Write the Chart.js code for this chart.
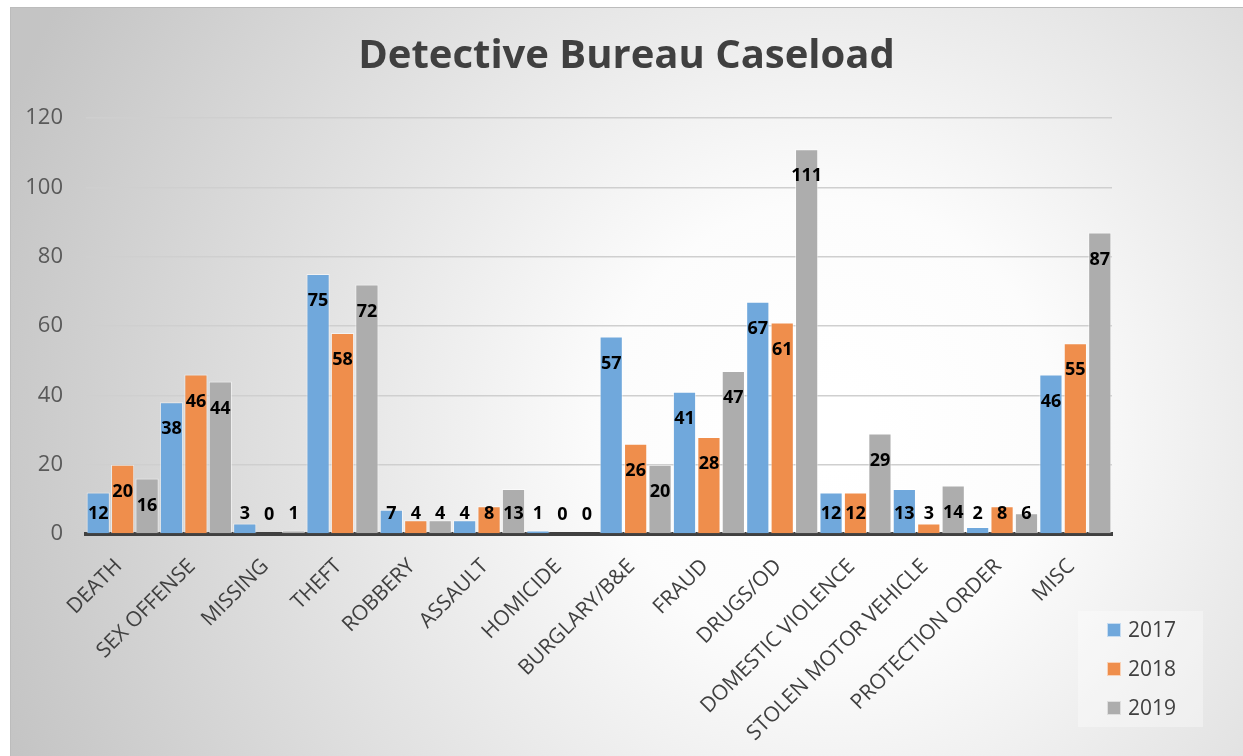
<!DOCTYPE html>
<html>
<head>
<meta charset="utf-8">
<script src="https://cdn.jsdelivr.net/npm/chart.js@4"></script>
<style>
  body { margin: 0; background: #ffffff; }
  #wrap { position: absolute; left: 10px; top: 7px; width: 1233px; height: 749px; }
</style>
</head>
<body>
<div id="wrap"><canvas id="caseChart"></canvas></div>
<script>
const categories = [
  "DEATH", "SEX OFFENSE", "MISSING", "THEFT", "ROBBERY", "ASSAULT", "HOMICIDE",
  "BURGLARY/B&E", "FRAUD", "DRUGS/OD", "DOMESTIC VIOLENCE", "STOLEN MOTOR VEHICLE",
  "PROTECTION ORDER", "MISC"
];
const cases2017 = [12, 38, 3, 75, 7, 4, 1, 57, 41, 67, 12, 13, 2, 46];
const cases2018 = [20, 46, 0, 58, 4, 8, 0, 26, 28, 61, 12, 3, 8, 55];
const cases2019 = [16, 44, 1, 72, 4, 13, 0, 20, 47, 111, 29, 14, 6, 87];
const yTicks = [0, 20, 40, 60, 80, 100, 120];

const FONT = "'Open Sans', sans-serif";

// radial grey background plus thin frame
const backgroundPlugin = {
  id: "bg",
  beforeDraw(chart) {
    const { ctx, width, height } = chart;
    ctx.save();
    const g = ctx.createRadialGradient(820, 420, 40, 820, 420, 880);
    g.addColorStop(0, "#ffffff");
    g.addColorStop(0.22, "#fcfcfc");
    g.addColorStop(1, "#c4c4c4");
    ctx.fillStyle = g;
    ctx.fillRect(0, 0, width, height);
    ctx.strokeStyle = "#bcbcbc";
    ctx.lineWidth = 1;
    ctx.strokeRect(0.5, 0.5, width, height);
    ctx.restore();
  },
};

// value labels inside the top of each bar
const valueLabels = {
  id: "valueLabels",
  afterDatasetsDraw(chart) {
    const { ctx } = chart;
    ctx.save();
    ctx.font = "bold 18px " + FONT;
    ctx.fillStyle = "#000000";
    ctx.textAlign = "center";
    ctx.textBaseline = "middle";
    chart.data.datasets.forEach((ds, i) => {
      chart.getDatasetMeta(i).data.forEach((bar, j) => {
        const y = Math.min(bar.y + 27, bar.base - 19);
        ctx.fillText(String(ds.data[j]), bar.x, y);
      });
    });
    ctx.restore();
  },
};

// boxed legend in the bottom right corner
const boxLegend = {
  id: "boxLegend",
  afterDraw(chart) {
    const { ctx } = chart;
    const x0 = 1068, y0 = 604, w = 125, h = 116;
    ctx.save();
    ctx.fillStyle = "rgba(255,255,255,0.35)";
    ctx.fillRect(x0, y0, w, h);
    ctx.font = "21px " + FONT;
    ctx.textBaseline = "middle";
    chart.data.datasets.forEach((ds, i) => {
      const cy = y0 + 19 + i * 39;
      ctx.fillStyle = ds.backgroundColor;
      ctx.fillRect(x0 + 29, cy - 7, 14, 14);
      ctx.strokeStyle = "rgba(255,255,255,0.6)";
      ctx.strokeRect(x0 + 29.5, cy - 6.5, 13, 13);
      ctx.fillStyle = "#404040";
      ctx.fillText(ds.label, x0 + 50, cy + 1);
    });
    ctx.restore();
  },
};

function makeDataset(label, data, color) {
  return {
    label: label,
    data: data,
    backgroundColor: color,
    borderColor: "rgba(255,255,255,0.55)",
    borderWidth: 1,
    categoryPercentage: 1.0,
    barPercentage: 0.95,
  };
}

new Chart(document.getElementById("caseChart"), {
  type: "bar",
  data: {
    labels: categories,
    datasets: [
      makeDataset("2017", cases2017, "#70a8dc"),
      makeDataset("2018", cases2018, "#ef8e4c"),
      makeDataset("2019", cases2019, "#adadad"),
    ],
  },
  options: {
    responsive: true,
    maintainAspectRatio: false,
    animation: false,
    layout: { padding: 0 },
    plugins: {
      legend: { display: false },
      tooltip: { enabled: false },
      title: {
        display: true,
        text: "Detective Bureau Caseload",
        color: "#404040",
        font: { family: FONT, size: 40, weight: "bold" },
        padding: { top: 26, bottom: 37 },
      },
    },
    scales: {
      x: {
        grid: { display: false, drawTicks: false },
        border: { display: true, color: "#404040", width: 4 },
        ticks: {
          color: "#404040",
          font: { family: FONT, size: 21 },
          maxRotation: 45,
          minRotation: 45,
          autoSkip: false,
          padding: 20,
          labelOffset: -4,
        },
        afterFit(scale) { scale.height = 222; },
      },
      y: {
        min: 0,
        max: 120,
        afterBuildTicks(scale) { scale.ticks = yTicks.map((v) => ({ value: v })); },
        grid: { color: "#cfcfcf", lineWidth: 1.5, drawTicks: false },
        border: { display: false },
        ticks: {
          color: "#595959",
          font: { family: FONT, size: 22 },
          padding: 23,
        },
        afterFit(scale) { scale.width = 76; },
      },
      // empty right-hand axis reserving room for the legend
      spacer: {
        position: "right",
        grid: { display: false, drawTicks: false },
        border: { display: false },
        ticks: { display: false },
        afterFit(scale) { scale.width = 131; },
      },
    },
  },
  plugins: [backgroundPlugin, valueLabels, boxLegend],
});
</script>
</body>
</html>
